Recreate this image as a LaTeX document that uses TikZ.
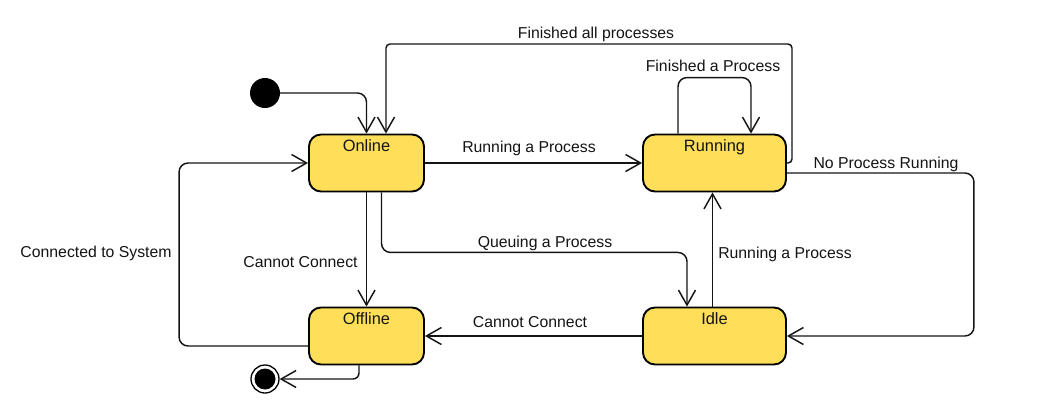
\documentclass[tikz,border=0pt]{standalone}
\usepackage{fontspec}
\setmainfont{Liberation Sans}
\usetikzlibrary{arrows.meta}
\definecolor{stfill}{RGB}{255,222,89}
\definecolor{ink}{RGB}{20,20,20}
\begin{document}
\begin{tikzpicture}[x=1pt,y=-1pt,
  state/.style={draw=black, line width=1.9pt, fill=stfill, rounded corners=12pt,
    minimum height=57pt, inner sep=0pt},
  lbl/.style={font=\fontsize{15.8}{18}\selectfont, inner sep=0pt, text=ink},
  slbl/.style={font=\fontsize{16.4}{18}\selectfont, inner sep=0pt, text=ink, anchor=north, yshift=-6pt},
  arr/.style={draw=ink, line width=1.45pt, -{Straight Barb[length=15pt,width=17pt]},
    rounded corners=9pt},
]
\useasboundingbox (0,0) rectangle (1043,418);
\fill[white] (0,0) rectangle (1043,418);

% states
\node[state, minimum width=115pt, label={[slbl]north:Online}] (on) at (366.5,163) {};
\node[state, minimum width=115pt, label={[slbl]north:Offline}] (off) at (366.5,336) {};
\node[state, minimum width=143pt, label={[slbl]north:Running}] (run) at (714.5,163) {};
\node[state, minimum width=143pt, label={[slbl]north:Idle}] (idle) at (714.5,336) {};

% initial and final
\node[circle, fill=black, minimum size=30pt, inner sep=0pt] (init) at (265,93) {};
\node[circle, draw=black, line width=1.3pt, fill=white, minimum size=28pt, inner sep=0pt] (fin) at (265,379) {};
\node[circle, fill=black, minimum size=21pt, inner sep=0pt] (finc) at (fin) {};

\coordinate (topR) at (792,44);
\coordinate (topL) at (386,44);

% connectors
\draw[arr] (init) -| (on.north);
\draw[arr, rounded corners=4pt] (run.east) -- (run.east -| topR) -- (topR) -- (topL) -- (topL |- on.north);
\draw[arr] ([xshift=-36.5pt]run.north) -- ++(0,-56) -- ++(73,0) -- ([xshift=36.5pt]run.north);
\draw[arr] ([yshift=-10pt]run.east) -- ++(187,0) |- (idle.east);
\draw[arr] (on.east) -- (run.west);
\draw[arr] (on.south) -- (off.north);
\draw[arr] ([xshift=15pt]on.south) -- ++(0,60) -| ([xshift=-27.5pt]idle.north);
\draw[arr] ([xshift=-2pt]idle.north) -- ([xshift=-2pt]run.south);
\draw[arr] (idle.west) -- (off.east);
\draw[arr] ([yshift=-10pt]off.west) -- ++(-129,0) |- (on.west);
\draw[arr, rounded corners=6pt] ([xshift=-7.5pt]off.south) |- (fin);

% labels
\node[lbl] (l1) at (596,34) {Finished all processes};
\node[lbl] (l2) at (713,66) {Finished a Process};
\node[lbl] (l3) at (529,148) {Running a Process};
\node[lbl] (l4) at (886,164) {No Process Running};
\node[lbl] (l5) at (545,243) {Queuing a Process};
\node[lbl] (l6) at (300.5,262) {Cannot Connect};
\node[lbl] (l7) at (785,254) {Running a Process};
\node[lbl] (l8) at (530,322) {Cannot Connect};
\node[lbl] (l9) at (96,253) {Connected to System};
\end{tikzpicture}
\end{document}
